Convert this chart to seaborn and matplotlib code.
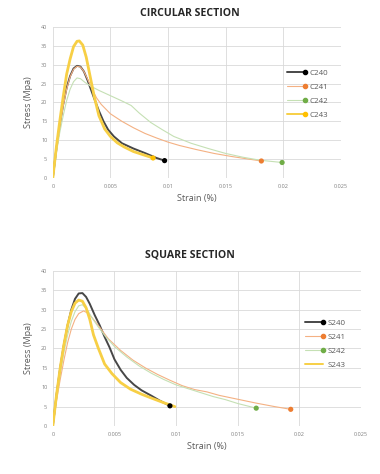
import numpy as np
import pandas as pd
import matplotlib
matplotlib.use("Agg")
import matplotlib.pyplot as plt
import seaborn as sns
from matplotlib.lines import Line2D
from matplotlib.legend_handler import HandlerLine2D

# ---------------- DATA ----------------
x_ticks = [0, 0.005, 0.01, 0.015, 0.02, 0.025]
x_tick_labels = ["0", "0.005", "0.01", "0.015", "0.02", "0.025"]
y_ticks = [0, 5, 10, 15, 20, 25, 30, 35, 40]

# Circular section
c240_strain = [0, 0.0003, 0.0006, 0.0009, 0.0012, 0.0015, 0.0018, 0.0021, 0.0024, 0.0027, 0.003, 0.0033,
               0.0036, 0.004, 0.0044, 0.0048, 0.0053, 0.006, 0.007, 0.008, 0.009, 0.0097]
c240_stress = [0, 7.5, 14, 19.5, 23.9, 27, 29, 29.7, 29.5, 28.2, 26, 23.5,
               21, 17.8, 15, 12.8, 11, 9.2, 7.8, 6.6, 5.3, 4.6]

c241_strain = [0, 0.0003, 0.0006, 0.0009, 0.0012, 0.0015, 0.0018, 0.0021, 0.0024, 0.0027, 0.003, 0.0034,
               0.0038, 0.0042, 0.005, 0.006, 0.007, 0.008, 0.009, 0.010, 0.011, 0.0125, 0.014, 0.0155,
               0.017, 0.0181]
c241_stress = [0, 7, 13.5, 19, 23.5, 26.8, 28.8, 29.6, 29.4, 28.2, 26.3, 23.5,
               21.2, 19.5, 17, 15, 13.3, 11.8, 10.6, 9.5, 8.6, 7.5, 6.5, 5.7,
               5.0, 4.5]

c242_strain = [0, 0.0003, 0.0006, 0.0009, 0.0012, 0.0015, 0.0018, 0.0021, 0.0024, 0.0028, 0.0033,
               0.004, 0.005, 0.006, 0.0068, 0.0075, 0.0085, 0.0095, 0.0105, 0.012, 0.0135, 0.015,
               0.0165, 0.018, 0.0199]
c242_stress = [0, 6.5, 12, 16.5, 20.5, 23.5, 25.5, 26.5, 26.3, 25.3, 24.3,
               23.2, 21.8, 20.4, 19.2, 17.2, 14.7, 12.8, 11, 9.2, 7.8, 6.5,
               5.5, 4.7, 4.1]

c243_strain = [0, 0.0003, 0.0006, 0.0009, 0.0012, 0.0015, 0.0018, 0.0021, 0.0023, 0.0026, 0.0029,
               0.0032, 0.0036, 0.004, 0.0045, 0.005, 0.0056, 0.0062, 0.007, 0.0078, 0.0087]
c243_stress = [0, 8, 15, 21.5, 27.5, 31.5, 34.8, 36.2, 36.3, 35.2, 32,
               27.5, 21.5, 16.5, 13, 11, 9.3, 8.2, 7, 6.2, 5.3]

# Square section
s240_strain = [0, 0.0003, 0.0006, 0.0009, 0.0012, 0.0015, 0.0018, 0.0021, 0.0024, 0.0027, 0.003,
               0.0034, 0.0038, 0.0042, 0.0046, 0.005, 0.0055, 0.006, 0.0066, 0.0072, 0.008, 0.0087,
               0.0095]
s240_stress = [0, 8, 15, 21, 26, 30, 32.8, 34.2, 34.3, 33.3, 31.5,
               28.6, 26, 23, 20.3, 17.2, 14.5, 12.4, 10.6, 9.2, 7.8, 6.5,
               5.2]

s241_strain = [0, 0.0003, 0.0006, 0.0009, 0.0012, 0.0015, 0.0018, 0.0021, 0.0025, 0.0029, 0.0033,
               0.0038, 0.0045, 0.0055, 0.0065, 0.0075, 0.0085, 0.0095, 0.0105, 0.0115, 0.0125,
               0.0135, 0.015, 0.0165, 0.018, 0.0193]
s241_stress = [0, 6.5, 12, 17, 21.5, 25, 27.5, 29, 29.7, 29, 27.5,
               25.5, 22.5, 19.5, 17, 15, 13.3, 11.8, 10.4, 9.4, 8.8,
               7.9, 6.9, 5.9, 5.0, 4.3]

s242_strain = [0, 0.0003, 0.0006, 0.0009, 0.0012, 0.0015, 0.0018, 0.0021, 0.0024, 0.0028, 0.0032,
               0.0037, 0.0043, 0.005, 0.006, 0.007, 0.008, 0.009, 0.01, 0.011, 0.012, 0.013, 0.014,
               0.015, 0.0165]
s242_stress = [0, 7, 13.5, 19, 23.5, 27, 29.5, 31, 31.3, 30, 27.8,
               25.5, 23, 20.5, 17.8, 15.5, 13.6, 12, 10.6, 9.6, 8.6, 7.6, 6.8,
               5.8, 4.6]

s243_strain = [0, 0.0003, 0.0006, 0.0009, 0.0012, 0.0015, 0.0018, 0.0021, 0.0024, 0.0027, 0.003,
               0.0033, 0.0037, 0.0042, 0.0048, 0.0055, 0.0063, 0.0072, 0.008, 0.009, 0.0099]
s243_stress = [0, 8, 15, 21, 26, 29.5, 31.7, 32.5, 32.2, 30.5, 27.5,
               23.5, 20, 16, 13.5, 11.2, 9.5, 8.2, 7.2, 6, 5]

circular_names = ["C240", "C241", "C242", "C243"]
square_names = ["S240", "S241", "S242", "S243"]

# ---------------- STYLE ----------------
sns.set_theme(style="whitegrid")
plt.rcParams["font.family"] = ["Open Sans", "DejaVu Sans"]

line_colors = ["#474747", "#f4b183", "#c5e0b4", "#f7cf45"]
marker_colors = ["#000000", "#ed7d31", "#70ad47", "#ffc000"]
line_widths = [1.4, 0.8, 0.8, 2.0]
grid_color = "#d9d9d9"
tick_color = "#808080"
label_color = "#595959"


class EndMarkerHandler(HandlerLine2D):
    """Excel-like legend entry: marker drawn at the right end of the line."""
    def create_artists(self, legend, orig_handle, xdescent, ydescent, width,
                       height, fontsize, trans):
        artists = super().create_artists(legend, orig_handle, xdescent, ydescent,
                                         width, height, fontsize, trans)
        for a in artists:
            if isinstance(a, Line2D):
                a.set_markevery([2])
        return artists


def draw_panel(ax, series, names, end_markers, title, title_y, legend_anchor):
    handles = []
    for i, ((sx, sy), name) in enumerate(zip(series, names)):
        df = pd.DataFrame({"strain": sx, "stress": sy})
        sns.lineplot(data=df, x="strain", y="stress", ax=ax, color=line_colors[i],
                     lw=line_widths[i], estimator=None, sort=False)
        if end_markers[i]:
            end = df.iloc[[-1]]
            sns.scatterplot(data=end, x="strain", y="stress", ax=ax, color=marker_colors[i],
                            s=14, edgecolor="none", zorder=5)
            h = Line2D([], [], color=line_colors[i], lw=line_widths[i] if i != 3 else 1.4,
                       marker="o", markersize=3, markerfacecolor=marker_colors[i],
                       markeredgecolor=marker_colors[i])
        else:
            h = Line2D([], [], color=line_colors[i], lw=1.4)
        handles.append(h)

    ax.set_xlim(0, 0.025)
    ax.set_ylim(0, 40)
    ax.set_xticks(x_ticks)
    ax.set_xticklabels(x_tick_labels)
    ax.set_yticks(y_ticks)
    ax.tick_params(axis="both", labelsize=4, colors=tick_color, length=0, pad=4)
    ax.grid(True, color=grid_color, lw=0.6)
    for sp in ax.spines.values():
        sp.set_visible(False)
    ax.set_xlabel("Strain (%)", fontsize=6.5, color=label_color, labelpad=4)
    ax.set_ylabel("Stress (Mpa)", fontsize=6.5, color=label_color, labelpad=6)

    leg = ax.legend(handles=handles, labels=names, loc="center left",
                    bbox_to_anchor=legend_anchor, frameon=False, fontsize=5.7,
                    handlelength=2.2, handletextpad=0.6, labelspacing=0.8,
                    handler_map={h: EndMarkerHandler() for h in handles})
    for t in leg.get_texts():
        t.set_color(label_color)
    fig.text(0.5, title_y, title, ha="center", va="center", fontsize=7.6,
             fontweight="bold", color="#262626")


fig = plt.figure(figsize=(3.8, 4.74), dpi=100)
ax1 = fig.add_axes([0.139, 0.6245, 0.758, 0.3186])
ax2 = fig.add_axes([0.139, 0.1013, 0.811, 0.327])

draw_panel(ax1,
           [(c240_strain, c240_stress), (c241_strain, c241_stress),
            (c242_strain, c242_stress), (c243_strain, c243_stress)],
           circular_names, [True, True, True, True], "CIRCULAR SECTION", 0.972,
           (0.79, 0.556))
draw_panel(ax2,
           [(s240_strain, s240_stress), (s241_strain, s241_stress),
            (s242_strain, s242_stress), (s243_strain, s243_stress)],
           square_names, [True, True, True, False], "SQUARE SECTION", 0.462,
           (0.796, 0.529))

fig.savefig("out.png", dpi=100)
